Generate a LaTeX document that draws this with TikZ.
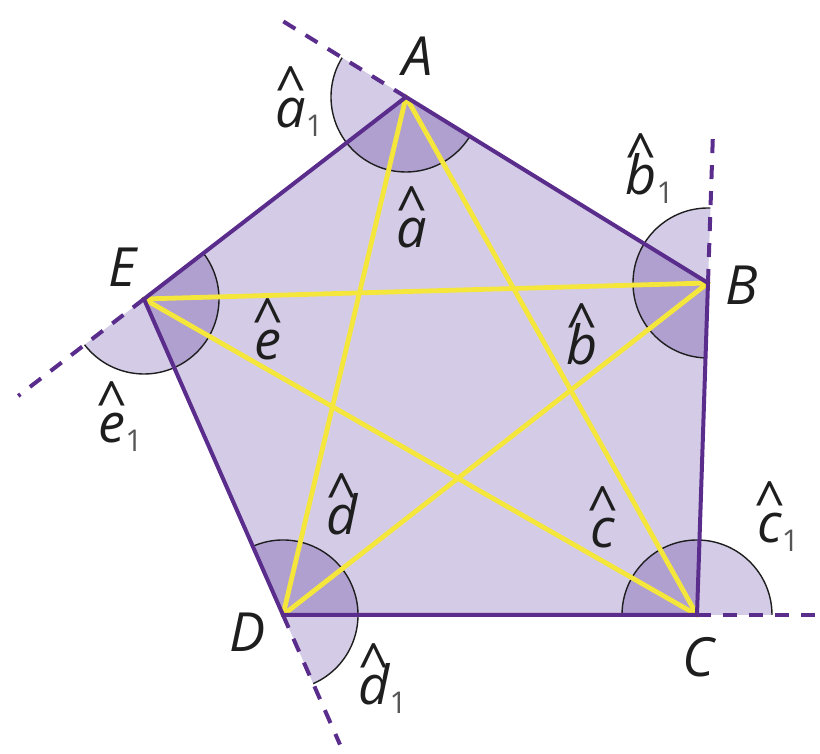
\documentclass[tikz,border=0pt]{standalone}
\usepackage{fontspec}
\setmainfont{Open Sans}
\usetikzlibrary{calc}
\definecolor{pfill}{HTML}{D4CCE6}
\definecolor{ifill}{HTML}{B0A0D0}
\definecolor{pside}{HTML}{5A2D8C}
\definecolor{starcol}{HTML}{F5E63C}
\definecolor{txtcol}{HTML}{1E1E1E}
\definecolor{subgray}{HTML}{555555}
\newsavebox\hbx
\newcommand\hatl[1]{\sbox\hbx{#1}\makebox[0pt][l]{\makebox[\wd\hbx][c]{\raisebox{11pt}{\textasciicircum}}}\usebox\hbx}
\newcommand\subone{{\upshape\fontsize{15}{15}\selectfont\color{subgray}\raisebox{-4.5pt}{1}}}
\begin{document}
\begin{tikzpicture}[x=0.5pt,y=0.5pt,
  lbl/.style={font=\fontsize{27}{30}\selectfont\itshape, text=txtcol, inner sep=0pt},
  side/.style={draw=pside, line width=2pt, line join=miter},
  ext/.style={draw=pside, line width=2pt, dash pattern=on 7pt off 6pt},
  starline/.style={draw=starcol, line width=2.4pt, line cap=round},
  arcline/.style={draw=txtcol, line width=0.7pt},
  outsec/.style={fill=pfill},
  insec/.style={fill=ifill}]
\useasboundingbox (0,0) rectangle (820,754);
\coordinate (A) at (406,657);
\coordinate (B) at (708,471);
\coordinate (C) at (697,139);
\coordinate (D) at (283,139);
\coordinate (E) at (144,455);
\coordinate (Ax) at ($(A)!-0.42!(B)$);
\coordinate (Bx) at ($(B)!-0.44!(C)$);
\coordinate (Cx) at ($(C)!-0.285!(D)$);
\coordinate (Dx) at ($(D)!-0.41!(E)$);
\coordinate (Ex) at ($(E)!-0.48!(A)$);
% pentagon fill
\fill[pfill] (A) -- (B) -- (C) -- (D) -- (E) -- cycle;
% exterior sectors
\fill[outsec] (A) -- ++(148.4:75) arc[start angle=148.4,end angle=217.6,radius=75] -- cycle;
\fill[outsec] (B) -- ++(88.1:75) arc[start angle=88.1,end angle=148.4,radius=75] -- cycle;
\fill[outsec] (C) -- ++(0:75) arc[start angle=0,end angle=88.1,radius=75] -- cycle;
\fill[outsec] (D) -- ++(-66.25:75) arc[start angle=-66.25,end angle=0,radius=75] -- cycle;
\fill[outsec] (E) -- ++(217.6:75) arc[start angle=217.6,end angle=293.75,radius=75] -- cycle;
% interior sectors
\fill[insec] (A) -- ++(217.6:75) arc[start angle=217.6,end angle=328.4,radius=75] -- cycle;
\fill[insec] (B) -- ++(148.4:75) arc[start angle=148.4,end angle=268.1,radius=75] -- cycle;
\fill[insec] (C) -- ++(88.1:75) arc[start angle=88.1,end angle=180,radius=75] -- cycle;
\fill[insec] (D) -- ++(0:75) arc[start angle=0,end angle=113.75,radius=75] -- cycle;
\fill[insec] (E) -- ++(293.75:75) arc[start angle=293.75,end angle=397.6,radius=75] -- cycle;
% arcs
\draw[arcline] ($(A)+(148.4:75)$) arc[start angle=148.4,end angle=328.4,radius=75];
\draw[arcline] ($(B)+(88.1:75)$) arc[start angle=88.1,end angle=268.1,radius=75];
\draw[arcline] ($(C)+(0:75)$) arc[start angle=0,end angle=180,radius=75];
\draw[arcline] ($(D)+(-66.25:75)$) arc[start angle=-66.25,end angle=113.75,radius=75];
\draw[arcline] ($(E)+(217.6:75)$) arc[start angle=217.6,end angle=397.6,radius=75];
% star
\draw[starline] (A) -- (C);
\draw[starline] (A) -- (D);
\draw[starline] (B) -- (D);
\draw[starline] (B) -- (E);
\draw[starline] (C) -- (E);
% sides
\draw[side] (A) -- (B) -- (C) -- (D) -- (E) -- cycle;
% extensions
\draw[ext] (A) -- (Ax);
\draw[ext] (B) -- (Bx);
\draw[ext] (C) -- (Cx);
\draw[ext] (D) -- (Dx);
\draw[ext] (E) -- (Ex);
% vertex labels
\node[lbl] (lA) at (418,698) {A};
\node[lbl] (lB) at (742,469) {B};
\node[lbl] (lC) at (698,97) {C};
\node[lbl] (lD) at (248,122) {D};
\node[lbl] (lE) at (122,487) {E};
% angle labels
\node[lbl, anchor=base] (la) at (412,506) {\hatl{a}};
\node[lbl, anchor=base] (lb) at (582,389) {\hatl{b}};
\node[lbl, anchor=base] (lc) at (603,206) {\hatl{c}};
\node[lbl, anchor=base] (ld) at (342,219) {\hatl{d}};
\node[lbl, anchor=base] (le) at (268,394) {\hatl{e}};
\node[lbl, anchor=base west] (la1) at (275,626) {\hatl{a}\subone};
\node[lbl, anchor=base west] (lb1) at (625,559) {\hatl{b}\subone};
\node[lbl, anchor=base west] (lc1) at (757,211) {\hatl{c}\subone};
\node[lbl, anchor=base west] (ld1) at (358,49) {\hatl{d}\subone};
\node[lbl, anchor=base west] (le1) at (98,311) {\hatl{e}\subone};
\end{tikzpicture}
\end{document}
